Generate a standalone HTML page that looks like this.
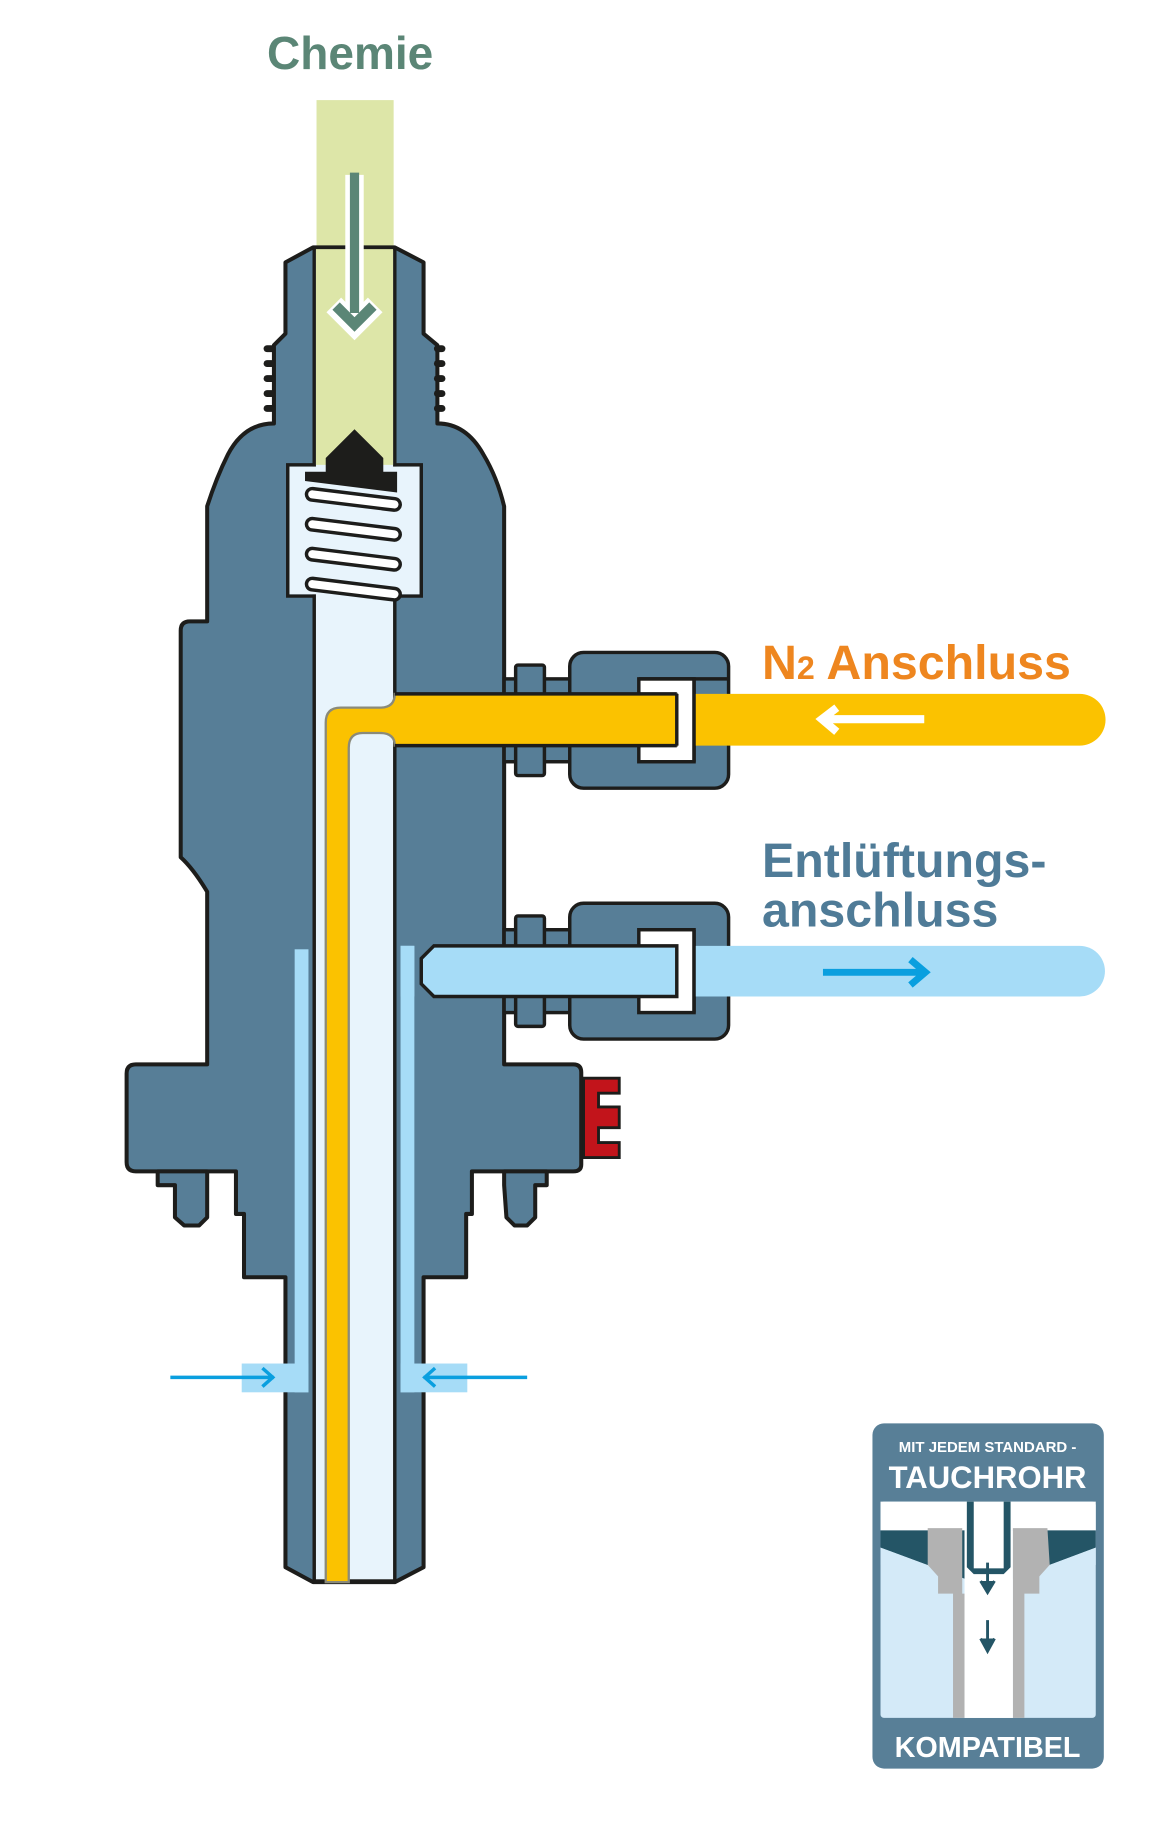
<!DOCTYPE html>
<html><head><meta charset="utf-8"><style>
html,body{margin:0;padding:0;background:#fff;}
svg{display:block}
text{font-family:"Liberation Sans",sans-serif;font-weight:bold}
</style></head><body>
<svg width="1151" height="1833" viewBox="0 0 1000 1593" preserveAspectRatio="none" xmlns="http://www.w3.org/2000/svg">
<rect width="1000" height="1593" fill="#fff"/>
<text x="232" y="60" font-size="40" fill="#5b8676">Chemie</text>
<!-- green feed -->
<rect x="275" y="87" width="67" height="130" fill="#dde6a8"/>
<!-- main body -->
<g stroke="#1d1d1b" stroke-width="3.5" stroke-linejoin="round" fill="#577e97">
<path d="M248,228 L272,215 L343,215 L368,228 L368,290 L380,300 L380,368 Q405,368 420,395 Q432,415 438,440 L438,925 L498,925 Q505,925 505,932 L505,1012 Q505,1018 498,1018 L410,1018 L410,1055 L405,1055 L405,1110 L368,1110 L368,1362 L343,1375 L272,1375 L248,1362 L248,1110 L212,1110 L212,1055 L205,1055 L205,1018 L118,1018 Q110,1018 110,1010 L110,933 Q110,925 118,925 L180,925 L180,775 Q168,755 157,745 L157,548 Q157,540 165,540 L180,540 L180,440 Q188,415 198,395 Q212,368 238,368 L238,300 L248,290 Z"/>
<path d="M137,1018 L137,1030 L152,1030 L152,1058 L160,1065 L173,1065 L180,1058 L180,1030 L180,1018 Z"/>
<path d="M438,1018 L438,1030 L440,1058 L447,1065 L458,1065 L465,1058 L465,1030 L475,1030 L475,1018 Z"/>
</g>
<!-- threads -->
<g fill="#1d1d1b">
<rect x="229" y="300" width="10" height="6" rx="3"/><rect x="229" y="313" width="10" height="6" rx="3"/><rect x="229" y="326" width="10" height="6" rx="3"/><rect x="229" y="339" width="10" height="6" rx="3"/><rect x="229" y="352" width="10" height="6" rx="3"/>
<rect x="377" y="300" width="10" height="6" rx="3"/><rect x="377" y="313" width="10" height="6" rx="3"/><rect x="377" y="326" width="10" height="6" rx="3"/><rect x="377" y="339" width="10" height="6" rx="3"/><rect x="377" y="352" width="10" height="6" rx="3"/>
</g>
<!-- bore -->
<rect x="273" y="216" width="70" height="1158" fill="#e8f4fc" stroke="#1d1d1b" stroke-width="3"/>
<rect x="274.5" y="216" width="67" height="188" fill="#dde6a8"/>
<line x1="272" y1="215" x2="343" y2="215" stroke="#1d1d1b" stroke-width="3"/>
<!-- valve chamber -->
<path d="M273,404 L250,404 L250,518 L273,518" fill="none" stroke="#1d1d1b" stroke-width="3"/>
<path d="M343,404 L366,404 L366,518 L343,518" fill="none" stroke="#1d1d1b" stroke-width="3"/>
<rect x="251.5" y="405.5" width="113" height="111" fill="#e8f4fc"/>
<polygon points="308,373 333,398 333,410 345,410 345,428 265,418 265,410 283,410 283,398" fill="#1d1d1b"/>
<g fill="#fff" stroke="#1d1d1b" stroke-width="3">
<rect x="266" y="429" width="82" height="10" rx="5" transform="rotate(7 307 434)"/>
<rect x="266" y="455" width="82" height="10" rx="5" transform="rotate(7 307 460)"/>
<rect x="266" y="481" width="82" height="10" rx="5" transform="rotate(7 307 486)"/>
<rect x="266" y="507" width="82" height="10" rx="5" transform="rotate(7 307 512)" transform-origin="0 0"/>
</g>
<!-- chemie arrow -->
<path d="M308,152 L308,270" stroke="#fff" stroke-width="16" fill="none"/>
<path d="M290,265 L308,283 L326,265" stroke="#fff" stroke-width="18" fill="none" stroke-linejoin="miter"/>
<path d="M308,150 L308,272" stroke="#5b8676" stroke-width="8" fill="none"/>
<path d="M292,266 L308,282 L324,266" stroke="#5b8676" stroke-width="9" fill="none"/>
<!-- fittings -->
<g stroke="#1d1d1b" stroke-width="3" fill="#577e97">
<rect x="438" y="590" width="60" height="72"/>
<rect x="448" y="578" width="25" height="96" rx="2"/>
<rect x="495" y="567" width="138" height="118" rx="12"/>
<rect x="438" y="808" width="60" height="72"/>
<rect x="448" y="796" width="25" height="96" rx="2"/>
<rect x="495" y="785" width="138" height="118" rx="12"/>
</g>
<rect x="555" y="590" width="48" height="72" fill="#fff" stroke="#1d1d1b" stroke-width="3"/>
<rect x="555" y="808" width="48" height="72" fill="#fff" stroke="#1d1d1b" stroke-width="3"/>
<!-- external lines -->
<path d="M603,603 L938,603 A22,22 0 0 1 938,648 L603,648 Z" fill="#fbc200"/>
<path d="M603,822 L938,822 A22,22 0 0 1 938,866 L603,866 Z" fill="#a6dcf7"/>
<line x1="555" y1="590" x2="633" y2="590" stroke="#1d1d1b" stroke-width="3"/>
<line x1="603" y1="590" x2="603" y2="662" stroke="#1d1d1b" stroke-width="3"/>
<line x1="603" y1="808" x2="603" y2="880" stroke="#1d1d1b" stroke-width="3"/>
<!-- yellow N2 tube -->
<path d="M283,1375 L283,628 Q283,615 296,615 L330,615 Q343,615 343,603 L588,603 L588,648 L343,648 Q343,637 330,637 L315,637 Q303,637 303,650 L303,1375 Z" fill="#fbc200" stroke="#8a8a7a" stroke-width="2"/>
<line x1="343" y1="603" x2="588" y2="603" stroke="#1d1d1b" stroke-width="3"/>
<line x1="343" y1="648" x2="588" y2="648" stroke="#1d1d1b" stroke-width="3"/>
<line x1="588" y1="603" x2="588" y2="648" stroke="#1d1d1b" stroke-width="3"/>
<!-- vent tube -->
<path d="M377,822 L588,822 L588,866 L377,866 L366,855 L366,833 Z" fill="#a6dcf7" stroke="#1d1d1b" stroke-width="3"/>
<rect x="348" y="822" width="12" height="44" fill="#a6dcf7"/>
<!-- vent channels -->
<rect x="256" y="825" width="12" height="385" fill="#a6dcf7"/>
<rect x="348" y="822" width="12" height="388" fill="#a6dcf7"/>
<rect x="210" y="1185" width="58" height="25" fill="#a6dcf7"/>
<rect x="348" y="1185" width="58" height="25" fill="#a6dcf7"/>
<g stroke="#0a9fdf" stroke-width="3" fill="none">
<path d="M148,1197 L238,1197 M228,1189 L237,1197 L228,1205"/>
<path d="M458,1197 L368,1197 M378,1189 L369,1197 L378,1205"/>
</g>
<!-- arrows on lines -->
<path d="M803,625 L715,625 M727,615 L714,625 L727,636" stroke="#fff" stroke-width="7" fill="none"/>
<path d="M715,845 L803,845 M791,834 L804,845 L791,856" stroke="#0a9fdf" stroke-width="6" fill="none"/>
<!-- red clip -->
<path d="M507,937 L538,937 L538,950 L520,950 L520,962 L538,962 L538,980 L520,980 L520,993 L538,993 L538,1006 L507,1006 Z" fill="#c2141b" stroke="#1d1d1b" stroke-width="2.5"/>
<!-- labels -->
<text x="662" y="590" font-size="42" fill="#ee861f">N<tspan font-size="28">2</tspan> Anschluss</text>
<text x="662" y="762" font-size="42" fill="#4f7b97">Entlüftungs-</text>
<text x="662" y="805" font-size="42" fill="#4f7b97">anschluss</text>
<!-- badge -->
<rect x="758" y="1237" width="201" height="300" rx="10" fill="#587f97"/>
<text x="858" y="1262" font-size="13" fill="#fff" text-anchor="middle">MIT JEDEM STANDARD -</text>
<text x="858" y="1293" font-size="27" fill="#fff" text-anchor="middle">TAUCHROHR</text>
<rect x="765" y="1305" width="187" height="188" rx="3" fill="#d4eaf8"/>
<path d="M765,1305 L952,1305 L952,1330 L765,1330 Z" fill="#fff"/>
<path d="M765,1330 L838,1330 L838,1372 L765,1345 Z" fill="#245566"/>
<path d="M952,1330 L880,1330 L880,1372 L952,1345 Z" fill="#245566"/>
<path d="M765,1345 L838,1372 L838,1385 L765,1360 Z" fill="#d4eaf8"/>
<path d="M952,1345 L880,1372 L880,1385 L952,1360 Z" fill="#d4eaf8"/>
<path d="M806,1328 L836,1328 L836,1385 L838,1385 L838,1493 L828,1493 L828,1385 L815,1385 L815,1370 L806,1360 Z" fill="#b2b2b2"/>
<path d="M910,1328 L880,1328 L880,1385 L880,1493 L890,1493 L890,1385 L903,1385 L903,1370 L912,1360 Z" fill="#b2b2b2"/>
<rect x="838" y="1330" width="42" height="163" fill="#fff"/>
<path d="M840,1305 L840,1362 L846,1368 L872,1368 L878,1362 L878,1305" fill="#245566"/>
<rect x="846" y="1305" width="26" height="58" fill="#fff"/>
<path d="M858,1358 L858,1380 M852,1374 L858,1384 L864,1374" stroke="#245566" stroke-width="2.5" fill="#245566"/>
<path d="M858,1408 L858,1430 M852,1424 L858,1435 L864,1424" stroke="#245566" stroke-width="2.5" fill="#245566"/>
<text x="858" y="1527" font-size="25" fill="#fff" text-anchor="middle">KOMPATIBEL</text>
</svg>
</body></html>
